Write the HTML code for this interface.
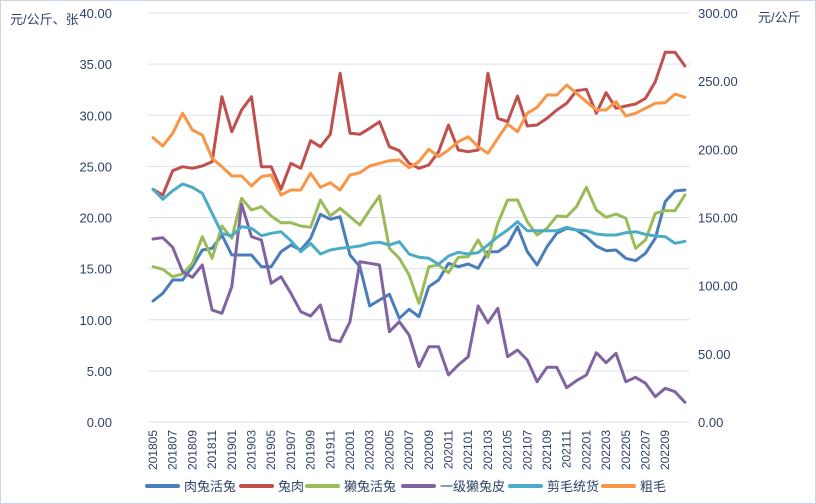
<!DOCTYPE html>
<html><head><meta charset="utf-8"><style>
html,body{margin:0;padding:0;background:#fff}
svg{display:block}
text{font-family:"Liberation Sans","Noto Sans CJK SC",sans-serif;fill:#2f4366}
</style></head><body>
<svg id="s" width="816" height="504" viewBox="0 0 816 504" xmlns="http://www.w3.org/2000/svg">
<rect x="0.5" y="0.5" width="815" height="503" fill="#fff" stroke="#c9d6e8"/>
<g id="grid"></g>
<g id="lines" fill="none" stroke-width="3" stroke-linejoin="round" stroke-linecap="round"></g>
<text x="10" y="24" font-size="13">元/公斤、张</text>
<text x="758" y="22" font-size="13">元/公斤</text>
<g id="leg" font-size="13"></g>
</svg>
<script>
var NS="http://www.w3.org/2000/svg",s=document.getElementById('s');
function el(p,t,a,txt){var e=document.createElementNS(NS,t);for(var k in a)e.setAttribute(k,a[k]);if(txt!=null)e.textContent=txt;p.appendChild(e);return e;}
var g=document.getElementById('grid');
for(var i=0;i<=8;i++){var y=13+i*(409/8);
el(g,'line',{x1:148,x2:690,y1:y,y2:y,stroke:'#d6e2f1','stroke-width':1});
el(g,'text',{x:112,y:y+5,'font-size':13,'text-anchor':'end'},(40-5*i).toFixed(2));}
for(var i=0;i<=6;i++){var y=13+i*(409/6);
el(g,'text',{x:698,y:y+5,'font-size':13},(300-50*i).toFixed(2));}
var labs=[];for(var yy=2018,m=5;;){labs.push(''+yy+(m<10?'0':'')+m);if(yy==2022&&m==9)break;m+=2;if(m>12){m-=12;yy++;}}
labs.forEach(function(l,i){var x=153+i*2*9.85;el(g,'text',{transform:'translate('+(x+4)+',430) rotate(-90)','font-size':12,'text-anchor':'end'},l);});
var D={
'#4a7ebb':[903,880,840,840,800,750,745,705,765,765,765,800,800,755,735,750,715,643,658,650,765,800,918,900,883,955,928,950,860,840,790,800,792,805,755,755,735,680,755,795,740,700,685,690,710,738,752,750,775,782,760,715,605,573,570],
'#c0504d':[568,585,512,500,505,498,485,290,395,330,290,500,500,568,490,505,422,440,403,220,400,403,385,365,440,452,490,505,495,455,375,450,455,450,220,355,365,288,378,375,355,330,310,272,268,340,278,325,318,312,295,245,157,157,198],
'#9bbb59':[800,808,830,822,790,710,775,678,715,595,630,620,648,668,668,678,682,600,648,625,650,675,630,588,745,775,825,910,800,795,818,772,770,720,772,670,600,600,665,705,685,648,650,620,562,630,652,642,655,745,720,640,632,632,585],
'#8064a2':[717,713,742,815,832,795,930,940,860,612,710,720,850,830,880,935,948,915,1018,1025,965,785,790,795,995,965,1005,1100,1040,1040,1125,1095,1070,918,968,925,1070,1050,1080,1145,1102,1102,1163,1142,1125,1058,1088,1060,1145,1132,1150,1190,1165,1175,1207],
'#4bacc6':[568,598,572,552,562,580,640,700,708,680,685,707,700,695,722,755,730,762,750,745,742,738,730,727,735,725,762,772,775,793,768,757,762,758,735,710,690,665,692,692,692,692,682,690,692,702,705,705,698,695,703,708,710,730,724],
'#f79646':[413,438,400,340,390,405,475,500,528,528,558,530,525,585,570,570,520,562,548,570,525,518,498,490,482,480,503,485,448,470,450,425,410,440,460,415,372,395,340,322,285,285,255,280,305,330,330,305,348,340,325,310,308,282,292]};
var L=document.getElementById('lines');
for(var c in D){var p=D[c].map(function(v,i){return (153+i*9.85).toFixed(1)+','+(v/3).toFixed(1)}).join(' ');el(L,'polyline',{points:p,stroke:c});}
var lg=document.getElementById('leg'),items=[['#4a7ebb','肉兔活兔',147],['#c0504d','兔肉',241],['#9bbb59','獭兔活兔',307],['#8064a2','一级獭兔皮',403],['#4bacc6','剪毛统货',510],['#f79646','粗毛',603]];
items.forEach(function(it){el(lg,'line',{x1:it[2],x2:it[2]+31,y1:486,y2:486,stroke:it[0],'stroke-width':4,'stroke-linecap':'round'});el(lg,'text',{x:it[2]+37,y:491},it[1]);});
</script>
</body></html>
